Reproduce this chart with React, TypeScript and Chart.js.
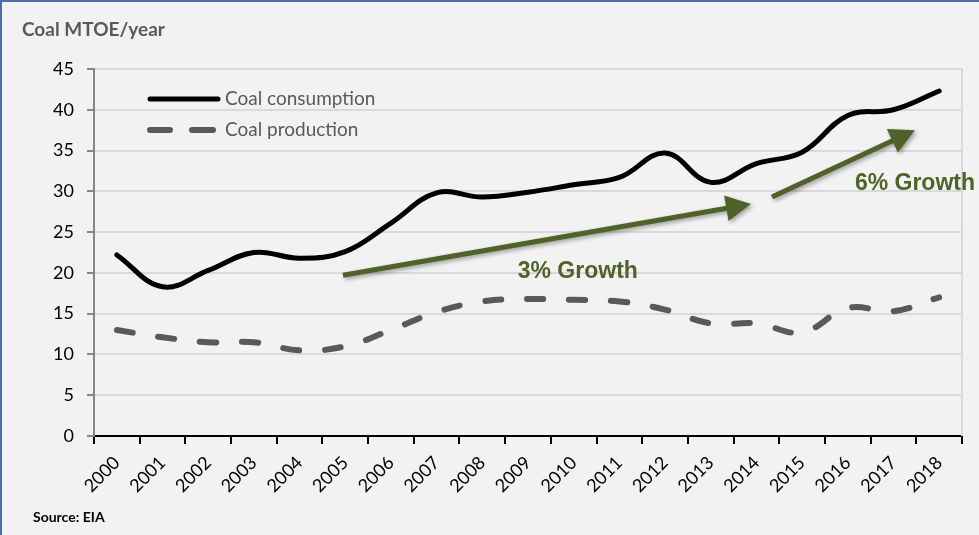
import React, { useEffect, useRef } from "react";
import { Chart, registerables } from "chart.js";

Chart.register(...registerables);

const years = ["2000","2001","2002","2003","2004","2005","2006","2007","2008","2009","2010","2011","2012","2013","2014","2015","2016","2017","2018"];
const consumption = [22.2, 18.3, 20.3, 22.5, 21.8, 22.6, 26.1, 29.8, 29.3, 29.9, 30.8, 31.7, 34.7, 31.1, 33.4, 34.8, 39.3, 40.0, 42.3];
const production = [13.0, 12.1, 11.5, 11.5, 10.5, 11.0, 13.0, 15.2, 16.5, 16.8, 16.7, 16.5, 15.5, 13.8, 13.8, 12.7, 15.7, 15.3, 17.0];
const yMin = 0;
const yMax = 45;
const yStep = 5;

const seriesNames = ["Coal consumption", "Coal production"];
const titleText = "Coal MTOE/year";
const sourceText = "Source: EIA";

// annotations: arrows in (category index, value) space
const arrow3 = { from: [4.95, 19.7], to: [13.88, 28.45], label: "3% Growth", labelAt: [10.09, 20.2] };
const arrow6 = { from: [14.34, 29.3], to: [17.47, 37.5], label: "6% Growth", labelAt: [17.47, 31.0] };

const FONT = "Lato, 'Open Sans', sans-serif";
const GREEN = "#4f6228";
const GRAY = "#595959";

function drawArrow(ctx: CanvasRenderingContext2D, x1: number, y1: number, x2: number, y2: number) {
  const ang = Math.atan2(y2 - y1, x2 - x1);
  const headLen = 25;
  const headW = 13;
  const bx = x2 - headLen * Math.cos(ang);
  const by = y2 - headLen * Math.sin(ang);
  ctx.save();
  ctx.shadowColor = "rgba(0,0,0,0.35)";
  ctx.shadowBlur = 4;
  ctx.shadowOffsetX = 2;
  ctx.shadowOffsetY = 2;
  ctx.strokeStyle = GREEN;
  ctx.fillStyle = GREEN;
  ctx.lineWidth = 5;
  ctx.lineCap = "butt";
  ctx.beginPath();
  ctx.moveTo(x1, y1);
  ctx.lineTo(bx + 2 * Math.cos(ang), by + 2 * Math.sin(ang));
  ctx.stroke();
  ctx.beginPath();
  ctx.moveTo(x2, y2);
  ctx.lineTo(bx + headW * Math.sin(ang), by - headW * Math.cos(ang));
  ctx.lineTo(bx - headW * Math.sin(ang), by + headW * Math.cos(ang));
  ctx.closePath();
  ctx.fill();
  ctx.restore();
}

const decorPlugin = {
  id: "decor",
  beforeDraw(chart: any) {
    const { ctx, width, height } = chart;
    ctx.save();
    ctx.fillStyle = "#f2f2f2";
    ctx.fillRect(0, 0, width, height);
    ctx.strokeStyle = "#4a6fa5";
    ctx.lineWidth = 2;
    ctx.beginPath();
    ctx.moveTo(1, height);
    ctx.lineTo(1, 1);
    ctx.lineTo(width, 1);
    ctx.stroke();
    ctx.fillStyle = GRAY;
    ctx.font = `bold 19px ${FONT}`;
    ctx.textBaseline = "middle";
    ctx.textAlign = "left";
    ctx.fillText(titleText, 22, 30);
    ctx.fillStyle = "#000";
    ctx.font = `bold 14px ${FONT}`;
    ctx.fillText(sourceText, 33, 517);
    ctx.restore();
  },
  afterDatasetsDraw(chart: any) {
    const { ctx, chartArea } = chart;
    const xs = chart.scales.x;
    const ys = chart.scales.y;
    ctx.save();
    // right border of plot
    ctx.strokeStyle = "#d9d9d9";
    ctx.lineWidth = 2;
    ctx.beginPath();
    ctx.moveTo(chartArea.right, chartArea.top);
    ctx.lineTo(chartArea.right, chartArea.bottom);
    ctx.stroke();

    // legend
    const lx = chartArea.left + 56;
    const ly1 = chartArea.top + 30;
    const ly2 = chartArea.top + 61;
    ctx.lineCap = "round";
    ctx.strokeStyle = "#000";
    ctx.lineWidth = 5;
    ctx.beginPath();
    ctx.moveTo(lx, ly1);
    ctx.lineTo(lx + 68, ly1);
    ctx.stroke();
    ctx.strokeStyle = GRAY;
    ctx.lineWidth = 6;
    ctx.beginPath();
    ctx.moveTo(lx, ly2);
    ctx.lineTo(lx + 20, ly2);
    ctx.moveTo(lx + 42, ly2);
    ctx.lineTo(lx + 63, ly2);
    ctx.stroke();
    ctx.fillStyle = GRAY;
    ctx.font = `19px ${FONT}`;
    ctx.textAlign = "left";
    ctx.textBaseline = "middle";
    ctx.fillText(seriesNames[0], lx + 75, ly1);
    ctx.fillText(seriesNames[1], lx + 75, ly2);

    // arrows
    for (const a of [arrow3, arrow6]) {
      drawArrow(
        ctx,
        xs.getPixelForValue(a.from[0]),
        ys.getPixelForValue(a.from[1]),
        xs.getPixelForValue(a.to[0]),
        ys.getPixelForValue(a.to[1])
      );
      ctx.fillStyle = GREEN;
      ctx.font = `bold 23px 'Liberation Sans', Arial, sans-serif`;
      ctx.textAlign = "center";
      ctx.textBaseline = "middle";
      ctx.fillText(a.label, xs.getPixelForValue(a.labelAt[0]), ys.getPixelForValue(a.labelAt[1]));
    }
    ctx.restore();
  },
};

export default function App() {
  const ref = useRef<HTMLCanvasElement | null>(null);
  useEffect(() => {
    if (!ref.current) return;
    const chart = new Chart(ref.current, {
      type: "line",
      data: {
        labels: years,
        datasets: [
          {
            label: seriesNames[0],
            data: consumption,
            borderColor: "#000",
            borderWidth: 5,
            tension: 0.4,
            pointRadius: 0,
            fill: false,
            borderCapStyle: "round",
            borderJoinStyle: "round",
          },
          {
            label: seriesNames[1],
            data: production,
            borderColor: GRAY,
            borderWidth: 6,
            tension: 0.4,
            pointRadius: 0,
            fill: false,
            borderDash: [16, 26],
            borderCapStyle: "round",
            borderJoinStyle: "round",
          },
        ],
      },
      options: {
        responsive: false,
        animation: false,
        devicePixelRatio: 1,
        layout: { padding: { left: 0, right: 17, top: 69, bottom: 0 } },
        plugins: {
          legend: { display: false },
          tooltip: { enabled: false },
          title: { display: false },
        },
        scales: {
          x: {
            type: "category",
            offset: true,
            grid: {
              display: true,
              offset: true,
              drawOnChartArea: false,
              drawTicks: true,
              tickLength: 8,
              color: "#000",
              lineWidth: 2,
            },
            border: { display: true, color: "#000", width: 2 },
            ticks: {
              autoSkip: false,
              minRotation: 45,
              maxRotation: 45,
              padding: 8,
              color: "#000",
              font: { family: FONT, size: 18 },
            },
            afterFit: (s: any) => {
              s.height = 99;
            },
          },
          y: {
            min: yMin,
            max: yMax,
            grid: {
              color: (c: any) => (c.tick && c.tick.value === 0 ? "rgba(0,0,0,0)" : "#d9d9d9"),
              lineWidth: 2,
              tickColor: "#868686",
              tickLength: 7,
              drawTicks: true,
            },
            border: { display: true, color: "#868686", width: 2 },
            ticks: {
              stepSize: yStep,
              padding: 13,
              color: "#000",
              font: { family: FONT, size: 18 },
            },
            afterFit: (s: any) => {
              s.width = 94;
            },
          },
        },
      },
      plugins: [decorPlugin],
    } as any);
    return () => chart.destroy();
  }, []);
  return (
    <div style={{ position: "fixed", left: 0, top: 0, width: 979, height: 535 }}>
      <canvas ref={ref} width={979} height={535} style={{ display: "block", width: 979, height: 535 }} />
    </div>
  );
}
